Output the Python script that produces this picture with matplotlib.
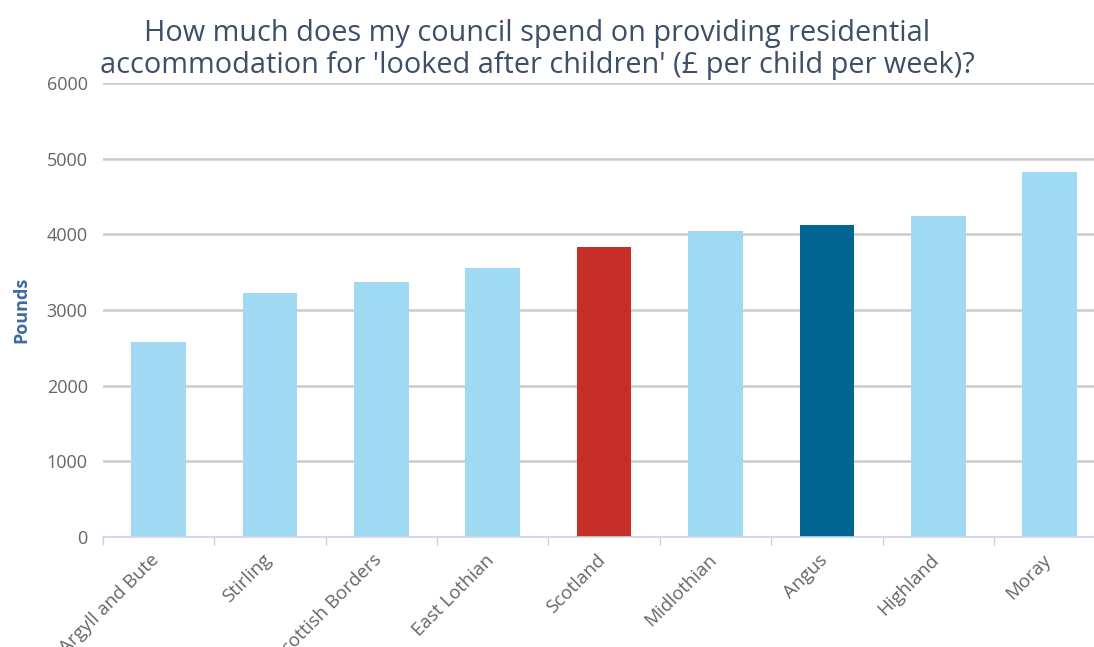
import numpy as np
import matplotlib.pyplot as plt
import matplotlib.transforms as mtransforms

# Weekly residential accommodation cost per looked after child (GBP)
councils = ["Argyll and Bute", "Stirling", "Scottish Borders", "East Lothian",
            "Scotland", "Midlothian", "Angus", "Highland", "Moray"]
pounds = [2575, 3227, 3373, 3558, 3832, 4038, 4127, 4246, 4828]
yTicks = [0, 1000, 2000, 3000, 4000, 5000, 6000]

# Colours: comparator councils, national average, highlighted council
lightBlue = "#a0daf2"
scotRed   = "#c62e28"
angusBlue = "#006591"
barColors = [scotRed if c == "Scotland" else angusBlue if c == "Angus"
             else lightBlue for c in councils]

plt.rcParams["font.family"] = ["Open Sans", "DejaVu Sans"]

fig = plt.figure(figsize=(10.94, 6.47), dpi=100)
ax  = fig.add_axes([0.0941, 0.170, 0.9163, 0.7017])

x = np.arange(len(councils))
ax.bar(x, pounds, width=0.49, color=barColors, zorder=3)

ax.set_xlim(-0.5, len(councils) - 0.5)
ax.set_ylim(0, 6000)

# Horizontal grid
ax.set_yticks(yTicks)
ax.yaxis.grid(True, color="#cccccc", linewidth=1.8, zorder=0)
ax.tick_params(axis="y", length=0, pad=11, labelsize=13, labelcolor="#666666")

# Category labels and band separators
ax.set_xticks(x)
ax.set_xticklabels(councils, rotation=45, ha="right", va="top",
                   rotation_mode="anchor", fontsize=13.5, color="#666666")
ax.tick_params(axis="x", which="major", length=0, pad=10)
shift = mtransforms.ScaledTranslation(-6 / 72, 0, fig.dpi_scale_trans)
for lbl in ax.get_xticklabels():
    lbl.set_transform(lbl.get_transform() + shift)
ax.set_xticks(np.arange(-0.5, len(councils), 1), minor=True)
ax.tick_params(axis="x", which="minor", length=6, width=1, color="#c8d0e0")

for side in ["top", "right", "left"]:
    ax.spines[side].set_visible(False)
ax.spines["bottom"].set_color("#ccd6eb")
ax.spines["bottom"].set_linewidth(1.2)
ax.spines["bottom"].set_zorder(4)

ax.set_ylabel("Pounds", fontsize=13, fontweight="bold", color="#3d6a9e",
              labelpad=12)

fig.text(0.491, 0.924,
         "How much does my council spend on providing residential\n"
         "accommodation for 'looked after children' (£ per child per week)?",
         ha="center", va="center", fontsize=20.8, color="#3b4f68",
         linespacing=1.15)

fig.savefig("out.png", dpi=100)
